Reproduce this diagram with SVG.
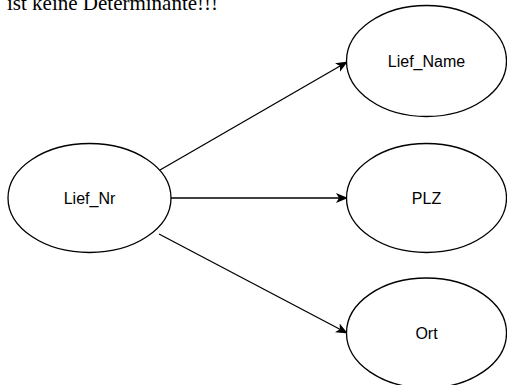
<svg xmlns="http://www.w3.org/2000/svg" width="507" height="385" viewBox="0 0 507 385">
<style>
.node ellipse{fill:#fff;stroke:#000;stroke-width:1.3}
.node text{font-family:"Liberation Sans",Arial,sans-serif;font-size:16px;fill:#000;text-anchor:middle;dominant-baseline:central}
.edge{stroke:#000;stroke-width:1.3;fill:none;marker-end:url(#arr)}
.note{font-family:"Liberation Serif","Times New Roman",serif;font-size:21px;fill:#000}
</style>
<defs>
<marker id="arr" viewBox="0 0 12 12" refX="11" refY="6" markerWidth="12" markerHeight="12" markerUnits="userSpaceOnUse" orient="auto">
<path d="M0,1 L12,6 L0,11 L3,6 Z" fill="#000"/>
</marker>
</defs>
<rect width="507" height="385" fill="#fff"/>
<text class="note" x="7" y="9.5">ist keine Determinante!!!</text>
<g id="connectors">
<line class="edge" x1="160" y1="170" x2="347" y2="62"/>
<line class="edge" x1="171" y1="198" x2="347" y2="198"/>
<line class="edge" x1="159" y1="234" x2="347" y2="333"/>
</g>
<g id="lief_nr" class="node"><ellipse cx="89.5" cy="198" rx="81.5" ry="54.5"/><text x="89.5" y="198">Lief_Nr</text></g>
<g id="lief_name" class="node"><ellipse cx="426.5" cy="61" rx="80" ry="55.5"/><text x="426.5" y="61">Lief_Name</text></g>
<g id="plz" class="node"><ellipse cx="426.5" cy="198" rx="80" ry="54.5"/><text x="426.5" y="198">PLZ</text></g>
<g id="ort" class="node"><ellipse cx="426.5" cy="333" rx="80" ry="55"/><text x="426.5" y="333">Ort</text></g>
</svg>
